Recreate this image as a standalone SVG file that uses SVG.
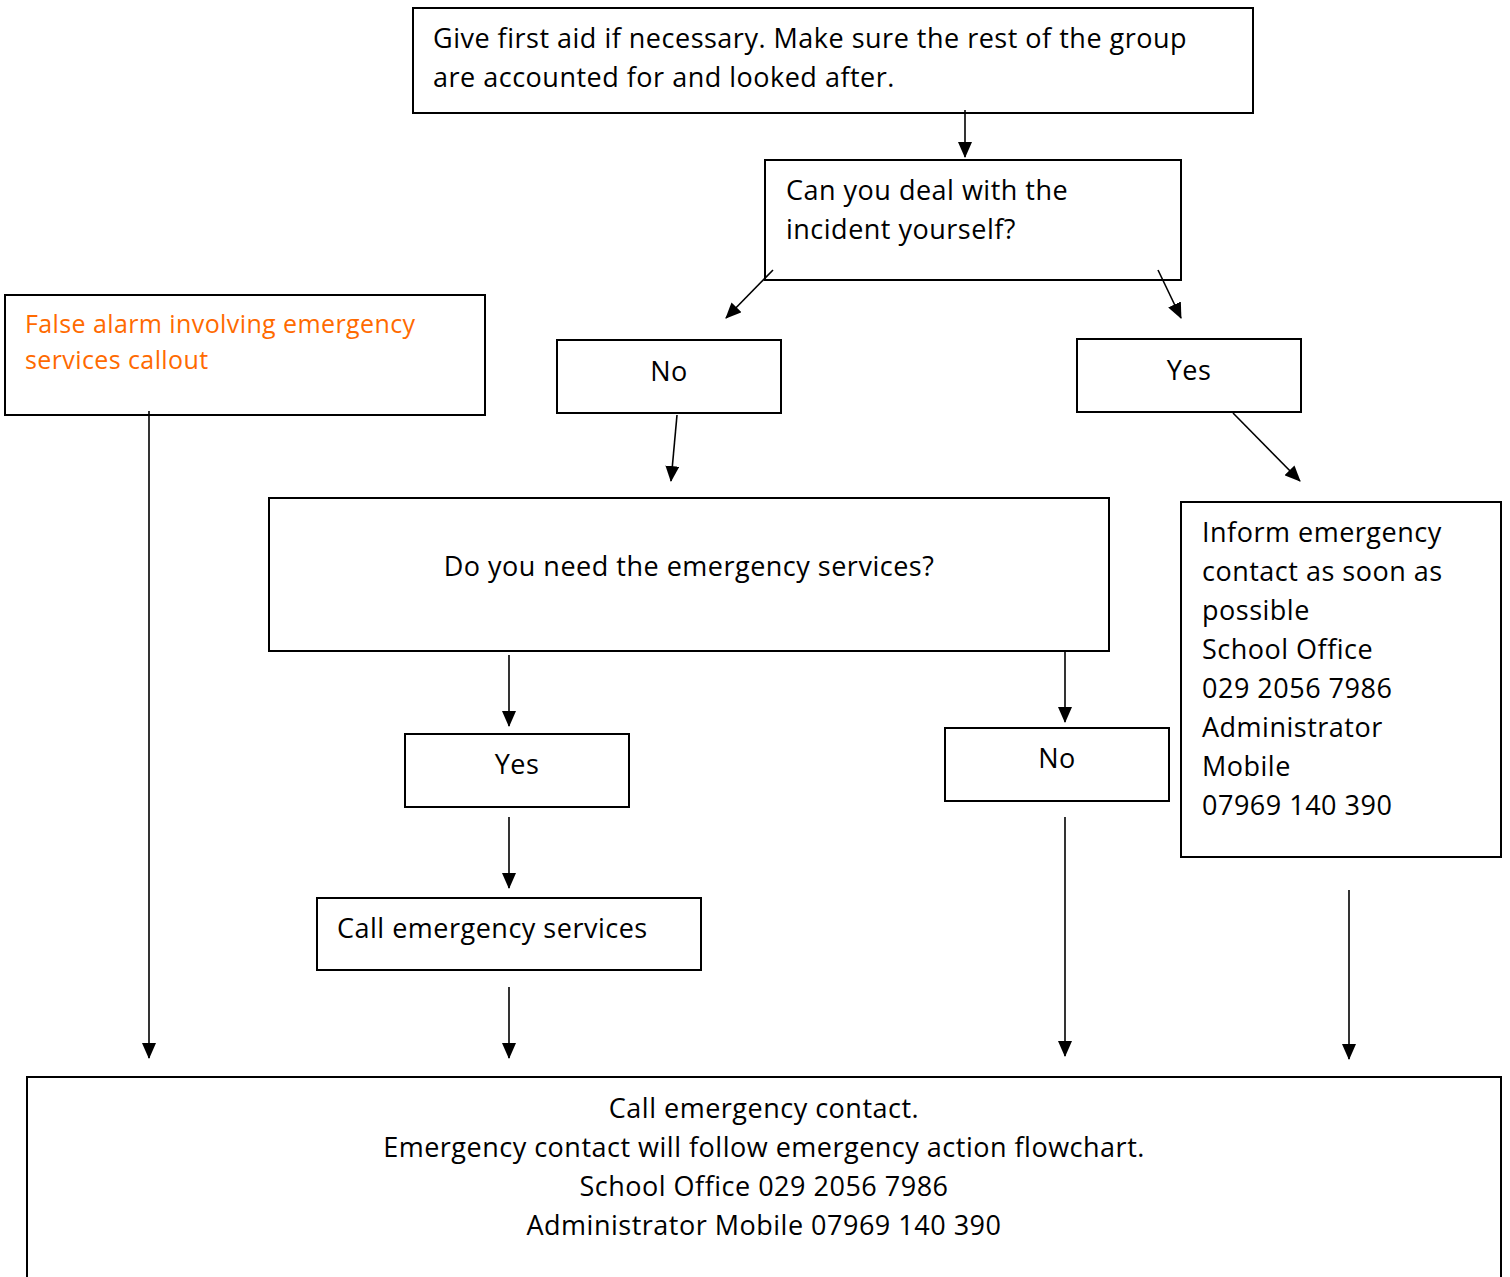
<svg xmlns="http://www.w3.org/2000/svg" width="1510" height="1277" viewBox="0 0 1510 1277">
<defs>
<marker id="ah" markerUnits="userSpaceOnUse" markerWidth="16" markerHeight="14" refX="15" refY="7" orient="auto">
<path d="M0,0 L16,7 L0,14 Z" fill="#000"/>
</marker>
<style>
.box{fill:#fff;stroke:#000;stroke-width:2}
.t{font-family:"Open Sans","Noto Sans","Liberation Sans",sans-serif;font-size:27px;letter-spacing:0.5px;fill:#000}
.c{text-anchor:middle}
.o{fill:#ff6a00;font-size:25px;letter-spacing:0.4px}
.ln{stroke:#000;stroke-width:1.6;fill:none;marker-end:url(#ah)}
</style>
</defs>
<rect width="1510" height="1277" fill="#fff"/>
<g id="first-aid">
<rect class="box" x="413" y="8" width="840" height="105"/>
<text class="t" x="433" y="48">Give first aid if necessary. Make sure the rest of the group</text>
<text class="t" x="433" y="87">are accounted for and looked after.</text>
</g>
<g id="can-deal">
<rect class="box" x="765" y="160" width="416" height="120"/>
<text class="t" x="786" y="200">Can you deal with the</text>
<text class="t" x="786" y="239">incident yourself?</text>
</g>
<g id="no1">
<rect class="box" x="557" y="340" width="224" height="73"/>
<text class="t c" x="669" y="381">No</text>
</g>
<g id="yes1">
<rect class="box" x="1077" y="339" width="224" height="73"/>
<text class="t c" x="1189" y="380">Yes</text>
</g>
<g id="false-alarm">
<rect class="box" x="5" y="295" width="480" height="120"/>
<text class="t o" x="25" y="333">False alarm involving emergency</text>
<text class="t o" x="25" y="369">services callout</text>
</g>
<g id="need-services">
<rect class="box" x="269" y="498" width="840" height="153"/>
<text class="t c" x="689" y="576">Do you need the emergency services?</text>
</g>
<g id="inform">
<rect class="box" x="1181" y="502" width="320" height="355"/>
<text class="t" x="1202" y="542">Inform emergency</text>
<text class="t" x="1202" y="581">contact as soon as</text>
<text class="t" x="1202" y="620">possible</text>
<text class="t" x="1202" y="659">School Office</text>
<text class="t" x="1202" y="698">029 2056 7986</text>
<text class="t" x="1202" y="737">Administrator</text>
<text class="t" x="1202" y="776">Mobile</text>
<text class="t" x="1202" y="815">07969 140 390</text>
</g>
<g id="yes2">
<rect class="box" x="405" y="734" width="224" height="73"/>
<text class="t c" x="517" y="774">Yes</text>
</g>
<g id="no2">
<rect class="box" x="945" y="728" width="224" height="73"/>
<text class="t c" x="1057" y="768">No</text>
</g>
<g id="call-services">
<rect class="box" x="317" y="898" width="384" height="72"/>
<text class="t" x="337" y="938">Call emergency services</text>
</g>
<g id="call-contact">
<rect class="box" x="27" y="1077" width="1474" height="220"/>
<text class="t c" x="764" y="1118">Call emergency contact.</text>
<text class="t c" x="764" y="1157">Emergency contact will follow emergency action flowchart.</text>
<text class="t c" x="764" y="1196">School Office 029 2056 7986</text>
<text class="t c" x="764" y="1235">Administrator Mobile 07969 140 390</text>
</g>
<g id="connectors">
<line class="ln" x1="965" y1="110" x2="965" y2="157"/>
<line class="ln" x1="773" y1="270" x2="726" y2="318"/>
<line class="ln" x1="1158" y1="270" x2="1181" y2="318"/>
<line class="ln" x1="677" y1="415" x2="671" y2="481"/>
<line class="ln" x1="1233" y1="413" x2="1300" y2="481"/>
<line class="ln" x1="149" y1="411" x2="149" y2="1058"/>
<line class="ln" x1="509" y1="655" x2="509" y2="726"/>
<line class="ln" x1="1065" y1="652" x2="1065" y2="722"/>
<line class="ln" x1="509" y1="817" x2="509" y2="888"/>
<line class="ln" x1="509" y1="987" x2="509" y2="1058"/>
<line class="ln" x1="1065" y1="817" x2="1065" y2="1056"/>
<line class="ln" x1="1349" y1="890" x2="1349" y2="1059"/>
</g>
</svg>
